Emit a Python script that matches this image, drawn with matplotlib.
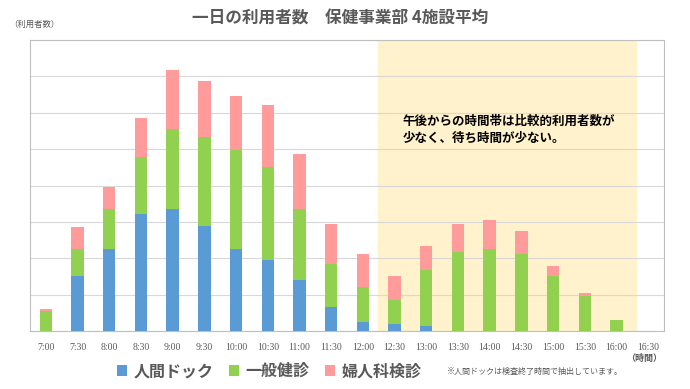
import matplotlib
matplotlib.use("Agg")
import matplotlib.pyplot as plt
import numpy as np

plt.rcParams['font.family'] = ['Noto Sans CJK JP', 'DejaVu Sans']

# 時間帯
times = ["7:00", "7:30", "8:00", "8:30", "9:00", "9:30", "10:00", "10:30", "11:00", "11:30",
         "12:00", "12:30", "13:00", "13:30", "14:00", "14:30", "15:00", "15:30", "16:00", "16:30"]
# 利用者数
dock = [0, 15.0, 22.6, 32.2, 33.5, 29.0, 22.6, 19.5, 14.0, 6.5,
        2.5, 2.0, 1.5, 0, 0, 0, 0, 0, 0, 0]
ippan = [5.5, 7.6, 10.9, 15.5, 22.1, 24.2, 27.1, 25.6, 19.5, 12.0,
         9.5, 6.6, 15.2, 21.7, 22.6, 21.2, 15.2, 9.6, 3.0, 0]
fujin = [0.5, 5.9, 6.0, 10.9, 16.1, 15.4, 14.8, 17.0, 15.1, 11.0,
         9.1, 6.4, 6.8, 7.8, 8.0, 6.3, 2.8, 0.9, 0, 0]

c_dock = "#5B9BD5"
c_ippan = "#92D050"
c_fujin = "#FF9B9B"
gray = "#595959"

fig = plt.figure(figsize=(6.9, 3.89), dpi=100)
ax = fig.add_axes([30/690, 58/389, 634/690, 291/389])

x = np.arange(len(times))
w = 0.39
b1 = ax.bar(x, dock, w, color=c_dock, zorder=3, label="人間ドック")
b2 = ax.bar(x, ippan, w, bottom=dock, color=c_ippan, zorder=3, label="一般健診")
bot = np.array(dock) + np.array(ippan)
b3 = ax.bar(x, fujin, w, bottom=bot, color=c_fujin, zorder=3, label="婦人科検診")

# 午後の時間帯
ax.axvspan(10.49, 18.62, color="#FFF2CC", zorder=0)

ax.set_xlim(-0.5, 19.5)
ax.set_ylim(0, 80)
ax.set_yticks(np.arange(0, 81, 10))
ax.set_yticklabels([])
ax.yaxis.grid(True, color="#D9D9D9", linewidth=0.8, zorder=1)
ax.tick_params(length=0)
ax.set_xticks(x)
ax.set_xticklabels(times, family="Liberation Serif", fontsize=7, color=gray)
ax.tick_params(axis="x", pad=9)
for s in ax.spines.values():
    s.set_color("#BFBFBF")
    s.set_linewidth(0.8)

ax.text(11.25, 59.5, "午後からの時間帯は比較的利用者数が\n少なく、待ち時間が少ない。",
        fontsize=9, fontweight="bold", color="black", va="top", ha="left",
        linespacing=1.45, zorder=4)

fig.text(0.493, 0.953, "一日の利用者数　保健事業部 4施設平均", ha="center", va="center",
         fontsize=12, fontweight="bold", color=gray)
fig.text(0.014, 0.938, "（利用者数）", ha="left", va="center", fontsize=6, color=gray)
fig.text(0.96, 0.079, "（時間）", ha="right", va="center", fontsize=6.5,
         fontweight="bold", color=gray)

fig.legend(handles=[b1, b2, b3], loc="center", bbox_to_anchor=(0.39, 0.046), ncol=3,
           frameon=False, fontsize=11.5, handlelength=0.6, handleheight=0.6,
           handletextpad=0.4, columnspacing=1.0, labelcolor=gray,
           prop={"weight": "bold", "size": 11.5})
fig.text(0.648, 0.046, "※人間ドックは検査終了時間で抽出しています。", ha="left", va="center",
         fontsize=5.8, color=gray)

fig.savefig("out.png", dpi=100)
